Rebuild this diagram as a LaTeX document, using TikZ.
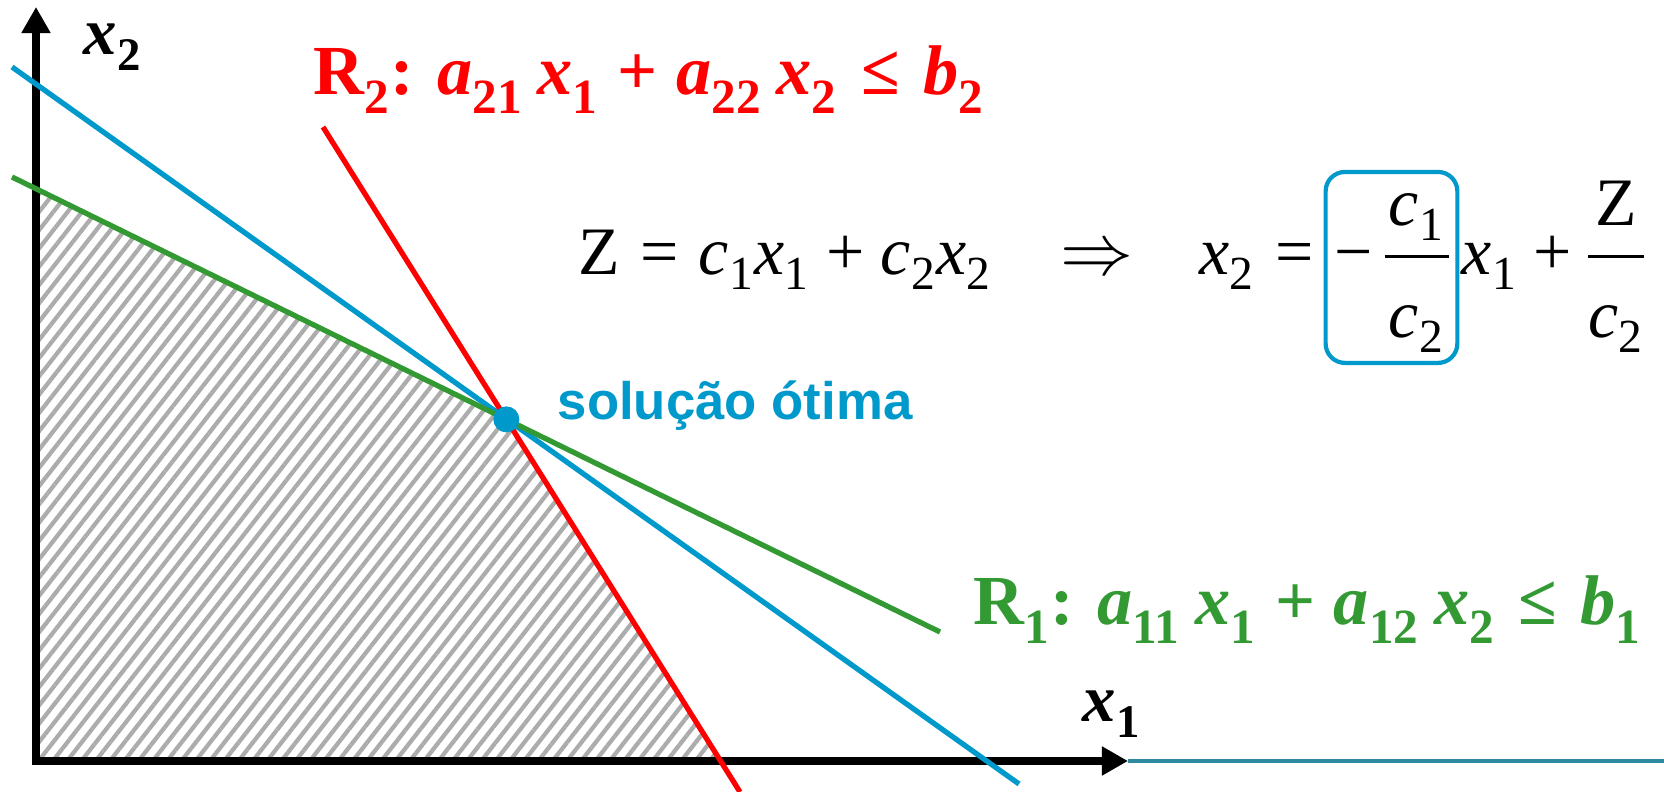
\documentclass[tikz,border=0pt]{standalone}
\usepackage{amsmath}
\usepackage{fontspec}
\setmainfont{Liberation Serif}
\newfontfamily\labelfont{Liberation Sans}
\usepackage{tikz}
\usetikzlibrary{positioning,arrows.meta,patterns.meta}
\definecolor{optblue}{HTML}{0099CC}
\definecolor{rgreen}{HTML}{339933}
\definecolor{rred}{HTML}{FF0000}
\definecolor{slideteal}{HTML}{2E8A9E}
\setlength{\nulldelimiterspace}{0pt}
% letters and operators from the text font
\newcommand{\vr}[2]{\text{\itshape #1}_{\text{#2}}}
\newcommand{\tplus}{\mathbin{\text{+}}}
\newcommand{\teq}{\mathrel{\text{=}}}
\newcommand{\tle}{\mathrel{\text{≤}}}
\newcommand{\tminus}{\text{−}}
\newcommand{\subdrop}[1]{\fontdimen16\textfont2=#1\relax}
\newcommand{\pad}[1]{\mkern1mu#1\mkern1mu}

\begin{document}
\begin{tikzpicture}[x=0.01cm,y=-0.01cm, every node/.style={inner sep=0pt},
  axis/.style={line width=2.5pt,{Triangle[length=7.4pt,width=7.8pt]}-{Triangle[length=7.4pt,width=7.8pt]}},
  rline/.style={line width=1.5pt},
  bigeq/.style={font=\fontsize{19.3}{24}\selectfont},
  rlbl/.style={font=\fontsize{20}{24}\selectfont\bfseries\boldmath},
  axlbl/.style={font=\fontsize{19}{22}\selectfont\bfseries\boldmath},
  slopebox/.style={draw=optblue,line width=1.2pt,rounded corners=5.5pt,inner xsep=2.5pt,inner ysep=2pt,text height=27.3pt,text depth=23pt}]
\useasboundingbox (0,0) rectangle (1664,792);
\fill[white] (0,0) rectangle (1664,792);
\coordinate (O) at (36,761);
\coordinate (xtip) at (1128,761);
\coordinate (ytip) at (36,7);
\coordinate (tealend) at (1664,761);
\coordinate (b1) at (12,67);
\coordinate (b2) at (1019,784);
\coordinate (g1) at (12,177);
\coordinate (g2) at (940,632);
\coordinate (r1) at (323,127);
\coordinate (r2) at (740,792);
\coordinate (opt) at (intersection of g1--g2 and r1--r2);
\coordinate (hA) at (intersection of g1--g2 and O--ytip);
\coordinate (hB) at (intersection of r1--r2 and O--xtip);

% feasible region
\fill[pattern={Lines[angle=52,distance=3.2pt,line width=1.2pt]},pattern color=gray!65] (hA) -- (opt) -- (hB) -- (O) -- cycle;

\draw[slideteal,line width=1.4pt] (xtip) -- (tealend);
\draw[axis] (ytip) -- (O) -- (xtip);

\draw[rline,optblue] (b1) -- (b2);
\draw[rline,rgreen] (g1) -- (g2);
\draw[rline,rred] (r1) -- (r2);
\fill[optblue] (opt) circle (3.7pt);

\node[axlbl,anchor=base west] (x2lbl) at (83,55) {$\subdrop{4.3pt}\vr{x}{2}$};
\node[axlbl,anchor=base west] (x1lbl) at (1082,722) {$\vr{x}{1}$};

\node[rlbl,rred,anchor=base west] (r2lbl) at (313,95) {$\subdrop{5.3pt}\text{R}_{\text{2}}\text{:}\;\vr{a}{21}\,\vr{x}{1} \tplus \vr{a}{22}\,\vr{x}{2} \tle \vr{b}{2}$};
\node[rlbl,rgreen,anchor=base west] (r1lbl) at (973,625) {$\text{R}_{\text{1}}\text{:}\;\vr{a}{11}\,\vr{x}{1} \tplus \vr{a}{12}\,\vr{x}{2} \tle \vr{b}{1}$};

\node[optblue,font=\labelfont\bfseries\fontsize{15}{18}\selectfont,anchor=base west] (optlbl) at (557,420) {solução ótima};

% objective function
\node[bigeq,anchor=base west] (zeq) at (578,275) {$\subdrop{4.2pt}\text{Z} \teq \vr{c}{1}\vr{x}{1} \tplus \vr{c}{2}\vr{x}{2}$};
\node[bigeq,base right=19pt of zeq] (impl) {$\Rightarrow$};
\node[bigeq,base right=18.5pt of impl] (xtwo) {$\vr{x}{2} \teq$};
\node[bigeq,slopebox,base right=2.5pt of xtwo] (slope) {$\tminus\,\dfrac{\pad{\vr{c}{1}}}{\rule{0pt}{20pt}\vr{c}{2}}$};
\node[bigeq,base right=0.5pt of slope] (rest) {$\vr{x}{1} \tplus \dfrac{\pad{\text{Z}}}{\rule{0pt}{20pt}\vr{c}{2}}$};
\end{tikzpicture}
\end{document}
